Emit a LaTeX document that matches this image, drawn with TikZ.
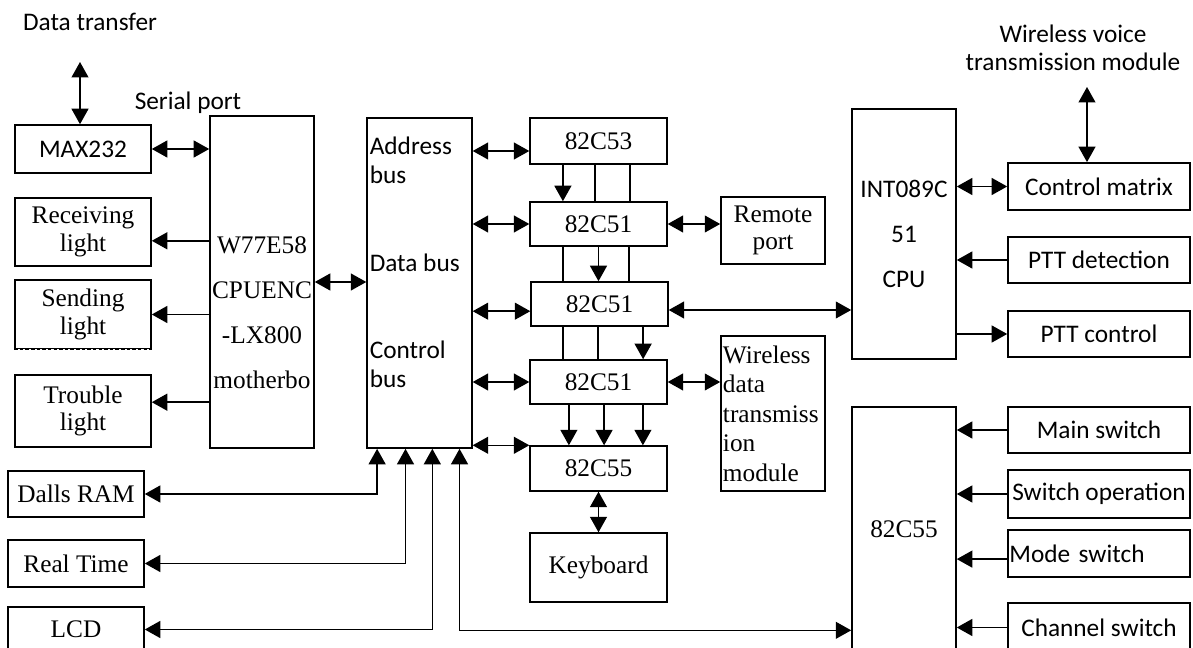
\documentclass[tikz,border=0pt]{standalone}
\usepackage{fontspec}
\setmainfont{Liberation Serif}
\setsansfont{Carlito}
\usetikzlibrary{arrows.meta, positioning}

\begin{document}
\begin{tikzpicture}[x=0.025cm, y=-0.025cm, line width=1.1pt, >={Triangle[length=11pt,width=12pt]},
    blk/.style={draw, inner sep=2pt, align=center, font=\fontsize{18}{19.5}\selectfont},
    sblk/.style={blk, font=\sffamily\fontsize{18}{20.5}\selectfont},
    txt/.style={inner sep=0pt, align=center, font=\sffamily\fontsize{18}{19.5}\selectfont},
    bustxt/.style={inner sep=0pt, anchor=west, align=left, font=\sffamily\fontsize{18}{20.5}\selectfont}]
      \useasboundingbox (0,0) rectangle (1193,648);

      % left side
      \node[txt] (dtr) at (90,22) {Data transfer};
      \node[txt] (ser) at (188,103) {Serial port};
      \coordinate (dtop) at (80,62);
      \node[sblk, minimum width=3.4cm, minimum height=1.2cm] (max) at (83,149) {MAX232};
      \node[blk, minimum width=3.4cm, minimum height=1.7cm] (rcv) at (83,232) {Receiving\\light};
      \node[blk, minimum width=3.4cm, minimum height=1.72cm] (snd) at (83,314.5) {Sending\\light};
      \node[blk, minimum width=3.4cm, minimum height=1.8cm] (trb) at (83,411) {Trouble\\light};
      \node[blk, minimum width=3.4cm, minimum height=1.15cm] (ram) at (76,494) {Dalls RAM};
      \node[blk, minimum width=3.4cm, minimum height=1.18cm] (rtc) at (76,563.5) {Real Time};
      \node[blk, minimum width=3.4cm, minimum height=1.12cm] (lcd) at (76,629.5) {LCD};
      \draw[white, line width=1.6pt] (snd.south west) -- (snd.south east);
      \draw[dash pattern=on 2.5pt off 1.5pt] (snd.south west) -- (snd.south east);

      % motherboard and buses
      \node[draw, minimum width=2.6cm, minimum height=8.3cm] (w77) at (262,282) {};
      \node[inner sep=0pt, align=center, font=\fontsize{18}{32}\selectfont] (w77txt) at (262,313) {W77E58\\CPUENC\\-LX800\\motherbo};
      \node[draw, minimum width=2.62cm, minimum height=8.25cm] (bus) at (419.5,283) {};
      \node[bustxt] (adr) at (369,160) {Address\\bus};
      \node[bustxt] (dat) at (369,263) {Data bus};
      \node[bustxt] (ctl) at (369,364) {Control\\bus};

      % peripheral chips
      \node[blk, minimum width=3.42cm, minimum height=1.15cm] (c53) at (598.5,141) {82C53};
      \node[blk, minimum width=3.42cm, minimum height=1.1cm] (c51a) at (598.5,224) {82C51};
      \node[blk, minimum width=3.42cm, minimum height=1.1cm] (c51b) at (599.5,304) {82C51};
      \node[blk, minimum width=3.42cm, minimum height=1.1cm] (c51c) at (598.5,382) {82C51};
      \node[blk, minimum width=3.42cm, minimum height=1.12cm] (c55) at (598.5,468.5) {82C55};
      \node[blk, minimum width=3.42cm, minimum height=1.72cm] (kbd) at (598.5,567.5) {Keyboard};
      \node[blk, minimum width=2.6cm, minimum height=1.68cm] (rem) at (773,230.5) {Remote\\port};
      \node[blk, minimum width=2.6cm, minimum height=3.88cm, text width=2.5cm, inner xsep=1pt, align=left,
            font=\fontsize{18}{21}\selectfont] (wdm) at (773,413.5) {Wireless\\data\\transmiss\\ion\\module};

      % right side
      \node[txt] (wvt) at (1073,48) {Wireless voice\\transmission module};
      \coordinate (vtop) at (1087,87);
      \node[sblk, minimum width=2.6cm, minimum height=6.25cm, font=\sffamily\fontsize{18}{32}\selectfont] (int) at (904,234) {INT089C\\51\\CPU};
      \node[sblk, minimum width=4.55cm, minimum height=1.18cm] (cm) at (1099,186.5) {Control matrix};
      \node[sblk, minimum width=4.55cm, minimum height=1.15cm] (ptd) at (1099,260) {PTT detection};
      \node[sblk, minimum width=4.55cm, minimum height=1.15cm] (ptc) at (1099,334) {PTT control};
      \node[blk, minimum width=2.6cm, minimum height=6.12cm] (ppi) at (904,529.5) {82C55};
      \node[sblk, minimum width=4.55cm, minimum height=1.15cm] (ms) at (1099,430) {Main switch};
      \node[sblk, minimum width=4.55cm, minimum height=1.2cm, inner xsep=1pt] (so) at (1099,494) {Switch operation};
      \node[sblk, minimum width=4.55cm, minimum height=1.18cm, text width=4.48cm, inner xsep=1pt, align=left] (md) at (1099,553.5) {Mode switch};
      \node[sblk, minimum width=4.55cm, minimum height=1.22cm] (chs) at (1099,627.5) {Channel switch};

      % left connections
      \draw[<->] (dtop) -- (dtop |- max.north);
      \draw[<->] (max.east) -- (max.east -| w77.west);
      \draw[<-] ([yshift=-0.22cm]rcv.east) coordinate (r1) -- (r1 -| w77.west);
      \draw[<-] (snd.east) -- (snd.east -| w77.west);
      \draw[<-] ([yshift=0.22cm]trb.east) coordinate (t1) -- (t1 -| w77.west);
      \draw[<->] (w77.east) -- (w77.east -| bus.west);
      \draw[<->] (ram.east) -| ([xshift=0.27cm]bus.south west);
      \draw[<->] (rtc.east) -| ([xshift=0.98cm]bus.south west);
      \draw[<->] (lcd.east) -| ([xshift=1.65cm]bus.south west);
      \draw[<->] ([xshift=2.33cm]bus.south west) |- ([yshift=-2.52cm]ppi.west);

      % bus to chips
      \draw[<->] ([yshift=-0.25cm]c53.west) coordinate (b1) -- (b1 -| bus.east);
      \draw[<->] (c51a.west) -- (c51a.west -| bus.east);
      \draw[<->] ([yshift=-0.18cm]c51b.west) coordinate (b3) -- (b3 -| bus.east);
      \draw[<->] (c51c.west) -- (c51c.west -| bus.east);
      \draw[<->] ([yshift=0.58cm]c55.west) coordinate (b5) -- (b5 -| bus.east);

      % between chips
      \draw[->] ([xshift=-0.89cm]c53.south) coordinate (v1) -- (v1 |- c51a.north);
      \draw ([xshift=-0.09cm]c53.south) coordinate (v2) -- (v2 |- c51a.north);
      \draw ([xshift=0.79cm]c53.south) coordinate (v3) -- (v3 |- c51a.north);
      \draw ([xshift=-0.89cm]c51a.south) coordinate (v4) -- (v4 |- c51b.north);
      \draw[->] (c51a.south) -- (c51a.south |- c51b.north);
      \draw ([xshift=0.76cm]c51a.south) coordinate (v6) -- (v6 |- c51b.north);
      \draw ([xshift=-0.91cm]c51b.south) coordinate (v7) -- (v7 |- c51c.north);
      \draw ([xshift=-0.04cm]c51b.south) coordinate (v8) -- (v8 |- c51c.north);
      \draw[->] ([xshift=1.09cm]c51b.south) coordinate (v9) -- (v9 |- c51c.north);
      \draw[->] ([xshift=-0.74cm]c51c.south) coordinate (w1) -- (w1 |- c55.north);
      \draw[->] ([xshift=0.14cm]c51c.south) coordinate (w2) -- (w2 |- c55.north);
      \draw[->] ([xshift=1.11cm]c51c.south) coordinate (w3) -- (w3 |- c55.north);
      \draw[<->] (c55.south) -- (kbd.north);
      \draw[<->] (c51a.east) -- (c51a.east -| rem.west);
      \draw[<->] (c51c.east) -- (c51c.east -| wdm.west);
      \draw[<->] ([yshift=-0.15cm]c51b.east) coordinate (i1) -- (i1 -| int.west);

      % right connections
      \draw[<->] (vtop) -- (vtop |- cm.north);
      \draw[<->] (cm.west) -- (cm.west -| int.east);
      \draw[->] (ptd.west) -- (ptd.west -| int.east);
      \draw[->] (ptc.west -| int.east) -- (ptc.west);
      \draw[->] (ms.west) -- (ms.west -| ppi.east);
      \draw[->] (so.west) -- (so.west -| ppi.east);
      \draw[->] ([yshift=-0.14cm]md.west) coordinate (m1) -- (m1 -| ppi.east);
      \draw[->] (chs.west) -- (chs.west -| ppi.east);
    \end{tikzpicture}
\end{document}
